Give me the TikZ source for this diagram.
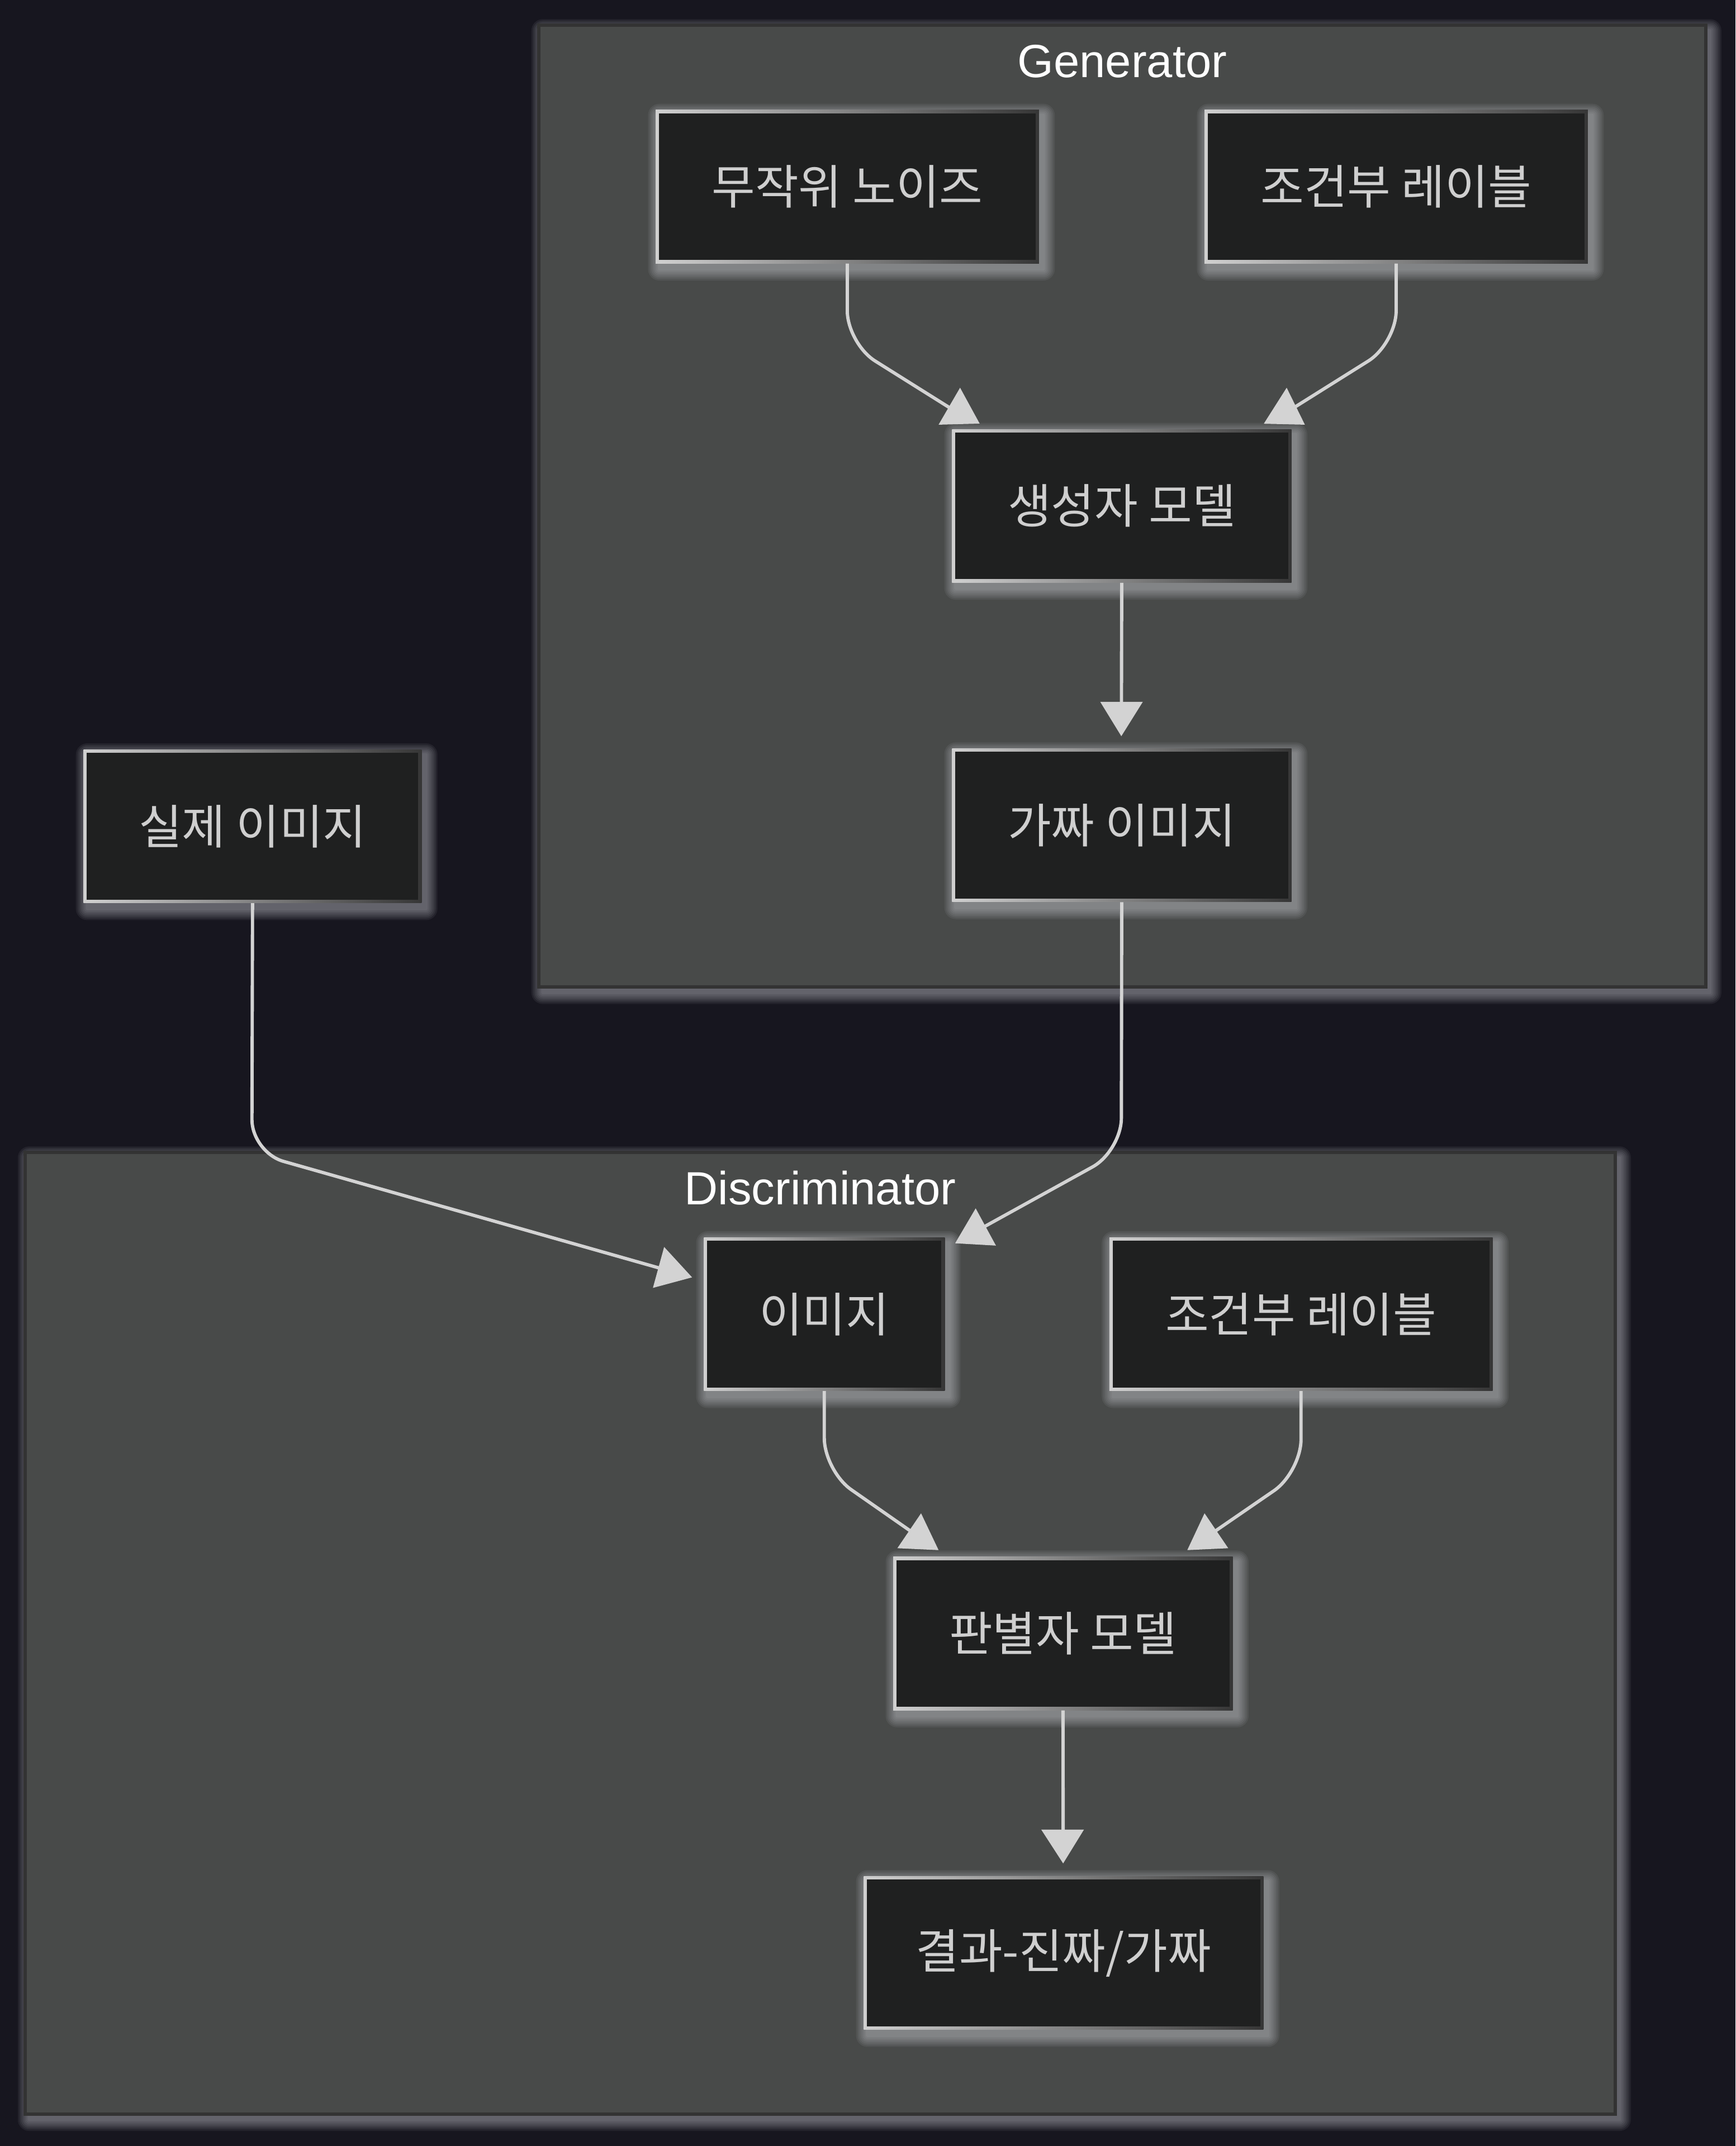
\documentclass[tikz,border=0pt]{standalone}
\usepackage{fontspec}
\setmainfont{Liberation Sans}
\newfontfamily\krfont{Noto Sans CJK KR}
\pgfdeclarelayer{back}
\pgfdeclarelayer{nglow}
\pgfsetlayers{back,nglow,main}
\definecolor{bgc}{HTML}{17161F}
\definecolor{clfill}{HTML}{484A49}
\definecolor{clline}{HTML}{333333}
\definecolor{ndfill}{HTML}{1F2020}
\definecolor{edgec}{HTML}{D3D3D3}
\definecolor{ntext}{HTML}{CFCFCF}
\definecolor{bdlight}{HTML}{D0D0D0}
\definecolor{bdmid}{HTML}{A2A2A2}
\definecolor{bddark}{HTML}{363636}
\definecolor{glowc}{HTML}{E6E6EE}
\newcommand\glowbetween[2]{%
  \foreach \k in {1,...,7}{%
    \fill[glowc, opacity=0.065, rounded corners={\k*1.2pt}]
      ([xshift={3pt-\k*1.2pt}, yshift={-4pt+\k*1.2pt}]#1) rectangle
      ([xshift={3pt+\k*1.2pt}, yshift={-4pt-\k*1.2pt}]#2);
  }}
\tikzset{
  box/.style={rectangle, inner sep=0pt, minimum height=112pt, text=ntext,
    font=\krfont\fontsize{34.5}{40}\selectfont,
    left color=bdlight, middle color=bdmid, right color=bddark,
    path picture={\fill[ndfill]
      ([xshift=2.4pt,yshift=-2.4pt]path picture bounding box.north west) rectangle
      ([xshift=-2.4pt,yshift=2.4pt]path picture bounding box.south east);}},
  cluster/.style={fill=clfill, draw=clline, line width=2.3pt},
  ctitle/.style={text=white, font=\fontsize{34}{40}\selectfont, inner sep=0pt},
  edge/.style={draw=edgec, line width=2.4pt},
  tip/.style={fill=edgec},
}
\begin{document}
\begin{tikzpicture}[x=1pt,y=-1pt]
\useasboundingbox (0,0) rectangle (1268,1568);
\begin{pgfonlayer}{back}
  \fill[bgc] (0,0) rectangle (1268,1568);
  \coordinate (gtl) at (393.6,18.4);
  \coordinate (gbr) at (1246.2,721.2);
  \coordinate (dtl) at (18.4,842);
  \coordinate (dbr) at (1180.1,1544.6);
  \glowbetween{gtl}{gbr}
  \glowbetween{dtl}{dbr}
  \draw[cluster] (gtl) rectangle (gbr);
  \draw[cluster] (dtl) rectangle (dbr);
\end{pgfonlayer}
\node[ctitle] (gtitle) at (819.9,45) {Generator};
\node[ctitle] (dtitle) at (599.2,868) {Discriminator};

\node[box, minimum width=280pt] (A) at (619,136.4) {무작위 노이즈};
\node[box, minimum width=280pt] (B) at (1020,136.4) {조건부 레이블};
\node[box, minimum width=248pt] (C) at (819.5,369.6) {생성자 모델};
\node[box, minimum width=248pt] (D) at (819.5,603) {가짜 이미지};
\node[box, minimum width=247pt] (E) at (184.5,603.7) {실제 이미지};
\node[box, minimum width=176pt] (F) at (602.2,960.2) {이미지};
\node[box, minimum width=280pt] (G) at (950.5,960.2) {조건부 레이블};
\node[box, minimum width=248pt] (H) at (776.6,1193.5) {판별자 모델};
\node[box, minimum width=292pt] (I) at (777,1427) {결과-진짜/가짜};

\begin{pgfonlayer}{nglow}
  \foreach \n in {A,B,C,D,E,F,G,H,I}{\glowbetween{\n.north west}{\n.south east}}
\end{pgfonlayer}

% arrow end points
\coordinate (tAC) at (699.5,301.5);
\coordinate (tBC) at (939.5,301.5);
\coordinate (tCD) at (819.3,514);
\coordinate (tDF) at (716,898);
\coordinate (tEF) at (487,928);
\coordinate (tFH) at (670,1122);
\coordinate (tGH) at (883,1122);
\coordinate (tHI) at (776.7,1338);

\draw[edge, rounded corners=24pt] (A.south) -- (619,251) -- (tAC);
\draw[edge, rounded corners=24pt] (B.south) -- (1020,251) -- (tBC);
\draw[edge] (C.south) -- (tCD);
\draw[edge, rounded corners=24pt] (D.south) -- (819.2,841) -- (tDF);
\draw[edge, rounded corners=24pt] (E.south) -- (184,842) -- (tEF);
\draw[edge, rounded corners=24pt] (F.south) -- (602.2,1074.7) -- (tFH);
\draw[edge, rounded corners=24pt] (G.south) -- (950.5,1075.6) -- (tGH);
\draw[edge] (H.south) -- (tHI);

\fill[tip] (701.4,283.3) -- (685.7,310.3) -- (715.7,309.5) -- cycle;
\fill[tip] (940,283.3) -- (923.3,309.6) -- (953.3,310.3) -- cycle;
\fill[tip] (803.8,512.8) -- (834.9,512.8) -- (819.2,537.9) -- cycle;
\fill[tip] (712.8,882.9) -- (697.8,908.4) -- (727.6,910.1) -- cycle;
\fill[tip] (485.2,911.1) -- (477,941) -- (505.6,933.3) -- cycle;
\fill[tip] (672.9,1105.7) -- (655.6,1131.2) -- (685.7,1132.6) -- cycle;
\fill[tip] (880,1105.7) -- (867.4,1132.6) -- (897.3,1131.2) -- cycle;
\fill[tip] (760.7,1336.8) -- (791.9,1336.8) -- (776.7,1361.5) -- cycle;
\end{tikzpicture}
\end{document}
